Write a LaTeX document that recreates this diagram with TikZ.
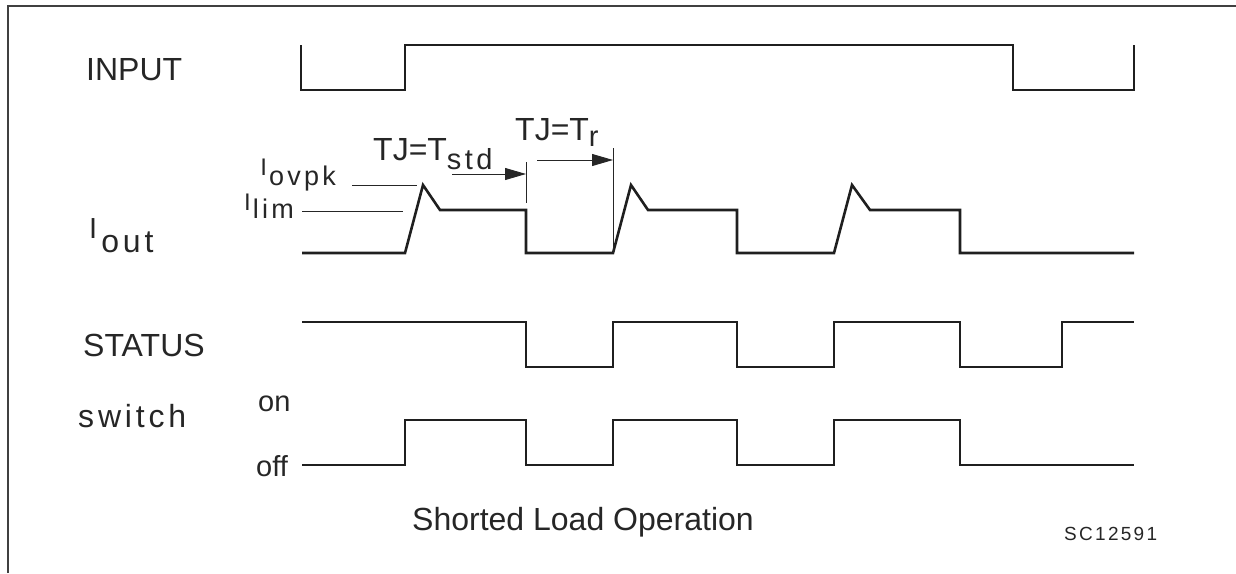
\documentclass[tikz,border=0pt]{standalone}
\usepackage{fontspec}
\setmainfont{Liberation Sans}
\newfontfamily\widefont[LetterSpace=12]{Liberation Sans}
\usetikzlibrary{arrows.meta}
\newcommand{\lowsub}[3]{\raisebox{-#1}{\fontsize{#2}{#2}\selectfont\widefont #3}}

\begin{document}
\begin{tikzpicture}[x=1pt, y=-1pt,
    sig/.style = {line width=2.6pt, draw=black!88},
    lead/.style = {line width=0.9pt, draw=black!85},
    arr/.style = {lead, -{Triangle[length=21pt,width=12pt]}},
    lbl/.style = {inner sep=0pt, anchor=base west, text=black!85,
      font=\fontsize{32}{36}\selectfont}]
  \useasboundingbox (0,0) rectangle (1236,573);
  \draw[line width=2pt, black!75] (8,573) -- (8,6) -- (1236,6);
  % waveforms
  \draw[sig] (301,45) -- (301,90) -- (405,90) -- (405,45) -- (1013,45)
    -- (1013,90) -- (1134,90) -- (1134,45);
  \draw[sig] (302,253) -- (405,253) -- (423,185) coordinate (pk1)
    -- (440,210) -- (526,210) -- (526,253) -- (613,253) coordinate (rise2)
    -- (631,185) -- (648,210) -- (737,210) -- (737,253) -- (834,253)
    -- (852,185) -- (870,210) -- (960,210) -- (960,253) -- (1134,253);
  \draw[sig] (302,322) -- (526,322) -- (526,367) -- (613,367) -- (613,322)
    -- (737,322) -- (737,367) -- (834,367) -- (834,322) -- (960,322)
    -- (960,367) -- (1062,367) -- (1062,322) -- (1134,322);
  \draw[sig] (302,465) -- (405,465) -- (405,420) -- (526,420) -- (526,465)
    -- (613,465) -- (613,420) -- (737,420) -- (737,465) -- (834,465)
    -- (834,420) -- (960,420) -- (960,465) -- (1134,465);
  % labels
  \node[lbl] (input) at (86,80) {INPUT};
  \node[lbl] (iout) at (89,238) {\fontsize{29}{30}\selectfont I\hspace{4pt}\lowsub{14pt}{32}{out}};
  \node[lbl, anchor=base east] (iovpk) at (336,175)
    {\fontsize{24}{26}\selectfont I\hspace{2pt}\lowsub{10pt}{27}{ovpk}};
  \node[lbl, anchor=base east] (ilim) at (294,210)
    {\fontsize{24}{26}\selectfont I\hspace{2pt}\lowsub{8pt}{27}{lim}};
  \node[lbl] (tstd) at (373,160) {TJ=T\lowsub{9pt}{29}{std}};
  \node[lbl] (tr) at (515,140) {TJ=T\lowsub{6pt}{29}{r}};
  \node[lbl] (status) at (83,356) {STATUS};
  \node[lbl, font=\fontsize{32}{36}\selectfont\widefont] (switch) at (78,427) {switch};
  \node[lbl, font=\fontsize{29}{32}\selectfont] (on) at (258,411) {on};
  \node[lbl, font=\fontsize{29}{32}\selectfont] (off) at (256,476) {off};
  \node[lbl] (title) at (412,530) {Shorted Load Operation};
  \node[lbl, font=\fontsize{19}{20}\selectfont\widefont] (code) at (1064,540) {SC12591};
  % leaders and timing arrows
  \coordinate (ovpk0) at (352,185);
  \coordinate (lim0) at (302,211);
  \coordinate (lim1) at (403,211);
  \draw[lead] (ovpk0) -- ([xshift=-6pt]pk1);
  \draw[lead] (lim0) -- (lim1);
  \coordinate (a1) at (452,174);
  \coordinate (m1) at (526,174);
  \coordinate (m1top) at (526,162);
  \coordinate (m1bot) at (526,203);
  \draw[lead] (m1top) -- (m1bot);
  \draw[arr] (a1) -- (m1);
  \coordinate (a2) at (537,160);
  \coordinate (m2) at (613,160);
  \coordinate (m2top) at (613,148);
  \draw[lead] (m2top) -- (rise2);
  \draw[arr] (a2) -- (m2);
\end{tikzpicture}
\end{document}
